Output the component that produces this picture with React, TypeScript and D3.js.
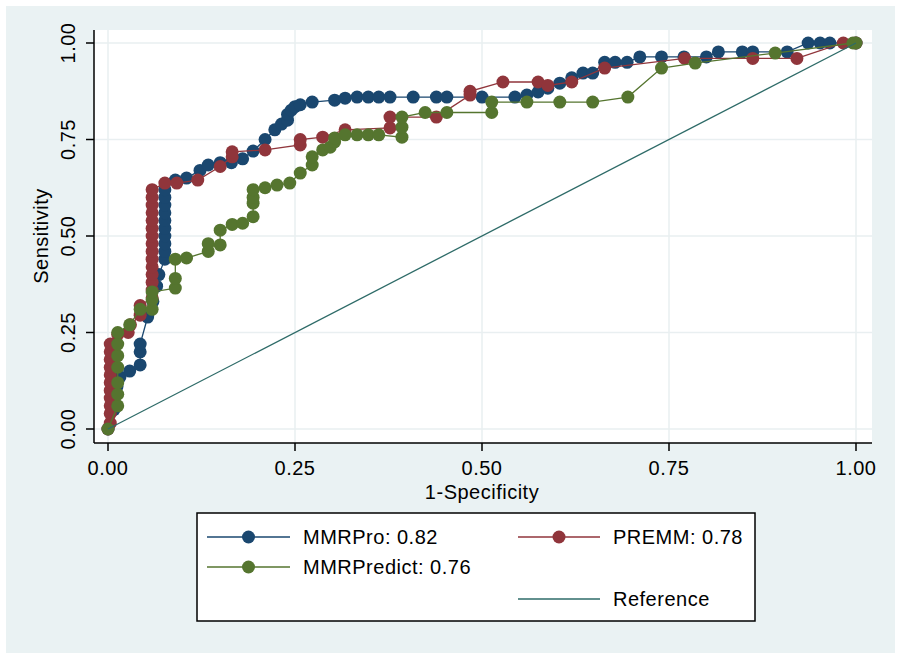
import React from "react";
import * as d3 from "d3";

const xTicks = [0, 0.25, 0.5, 0.75, 1];
const yTicks = [0, 0.25, 0.5, 0.75, 1];
const tickLabels = ["0.00", "0.25", "0.50", "0.75", "1.00"];

const seriesNames = ["MMRPro: 0.82", "PREMM: 0.78", "MMRPredict: 0.76", "Reference"];
const seriesColors = ["#1a476f", "#90353b", "#55752f", "#2e6b68"];

const mmrPro: [number, number][] = [
  [0, 0], [0.008, 0.05], [0.008, 0.08], [0.012, 0.11], [0.012, 0.125], [0.016, 0.135],
  [0.029, 0.15], [0.043, 0.166], [0.043, 0.2], [0.043, 0.22], [0.053, 0.29], [0.06, 0.33],
  [0.065, 0.37], [0.068, 0.4], [0.076, 0.44], [0.076, 0.46], [0.076, 0.48], [0.076, 0.5],
  [0.076, 0.52], [0.076, 0.54], [0.076, 0.56], [0.076, 0.58], [0.076, 0.6], [0.076, 0.62],
  [0.09, 0.645], [0.105, 0.65], [0.123, 0.67], [0.134, 0.684], [0.15, 0.69], [0.165, 0.69],
  [0.18, 0.7], [0.194, 0.72], [0.21, 0.75], [0.223, 0.775], [0.232, 0.79], [0.24, 0.8],
  [0.24, 0.815], [0.245, 0.826], [0.25, 0.835], [0.257, 0.84], [0.273, 0.847], [0.303, 0.852],
  [0.317, 0.857], [0.333, 0.86], [0.348, 0.86], [0.362, 0.86], [0.377, 0.86], [0.408, 0.86],
  [0.439, 0.86], [0.453, 0.86], [0.5, 0.86], [0.544, 0.86], [0.56, 0.865], [0.575, 0.873],
  [0.588, 0.883], [0.604, 0.896], [0.62, 0.91], [0.635, 0.922], [0.648, 0.922], [0.664, 0.95],
  [0.678, 0.95], [0.694, 0.95], [0.711, 0.964], [0.74, 0.964], [0.77, 0.964], [0.8, 0.964],
  [0.816, 0.977], [0.848, 0.977], [0.862, 0.977], [0.908, 0.977], [0.936, 1], [0.952, 1],
  [0.965, 1], [1, 1],
];

const premm: [number, number][] = [
  [0, 0], [0.003, 0.015], [0.003, 0.04], [0.003, 0.06], [0.003, 0.08], [0.003, 0.1],
  [0.003, 0.12], [0.003, 0.14], [0.003, 0.16], [0.003, 0.18], [0.003, 0.2], [0.003, 0.22],
  [0.013, 0.245], [0.027, 0.25], [0.03, 0.27], [0.043, 0.295], [0.043, 0.32], [0.059, 0.34],
  [0.059, 0.36], [0.059, 0.38], [0.059, 0.4], [0.059, 0.42], [0.059, 0.44], [0.059, 0.46],
  [0.059, 0.48], [0.059, 0.5], [0.059, 0.52], [0.059, 0.54], [0.059, 0.56], [0.059, 0.58],
  [0.059, 0.6], [0.059, 0.62], [0.076, 0.637], [0.092, 0.637], [0.12, 0.645], [0.15, 0.68],
  [0.166, 0.705], [0.166, 0.718], [0.21, 0.723], [0.257, 0.736], [0.257, 0.75], [0.287, 0.756],
  [0.317, 0.775], [0.377, 0.78], [0.377, 0.808], [0.439, 0.808], [0.484, 0.865], [0.484, 0.875],
  [0.528, 0.899], [0.575, 0.899], [0.588, 0.89], [0.62, 0.899], [0.664, 0.935], [0.771, 0.96],
  [0.862, 0.96], [0.921, 0.96], [0.983, 1], [1, 1],
];

const mmrPredict: [number, number][] = [
  [0, 0], [0.013, 0.06], [0.013, 0.09], [0.013, 0.12], [0.013, 0.16], [0.013, 0.19],
  [0.013, 0.22], [0.013, 0.25], [0.029, 0.27], [0.043, 0.31], [0.059, 0.31], [0.059, 0.335],
  [0.059, 0.355], [0.09, 0.365], [0.09, 0.39], [0.09, 0.44], [0.105, 0.443], [0.134, 0.46],
  [0.134, 0.48], [0.15, 0.477], [0.15, 0.515], [0.166, 0.53], [0.18, 0.533], [0.194, 0.55],
  [0.194, 0.585], [0.194, 0.6], [0.194, 0.62], [0.21, 0.625], [0.226, 0.632], [0.243, 0.637],
  [0.257, 0.663], [0.273, 0.684], [0.273, 0.705], [0.287, 0.723], [0.297, 0.73], [0.303, 0.744],
  [0.303, 0.754], [0.317, 0.762], [0.333, 0.762], [0.348, 0.762], [0.362, 0.762], [0.393, 0.756],
  [0.393, 0.782], [0.393, 0.808], [0.424, 0.82], [0.453, 0.82], [0.513, 0.82], [0.513, 0.847],
  [0.56, 0.847], [0.604, 0.847], [0.648, 0.847], [0.695, 0.86], [0.74, 0.935], [0.785, 0.948],
  [0.892, 0.974], [0.996, 1], [1, 1],
];

const reference: [number, number][] = [[0, 0], [1, 1]];

const FONT = "'Liberation Sans', Arial, sans-serif";

export default function App() {
  const x = d3.scaleLinear().domain([0, 1]).range([108, 856]);
  const y = d3.scaleLinear().domain([0, 1]).range([429, 43]);
  const line = d3
    .line<[number, number]>()
    .x((d) => x(d[0]))
    .y((d) => y(d[1]));

  const plotLeft = 94, plotRight = 872, plotTop = 30, plotBottom = 443;
  const series = [mmrPro, premm, mmrPredict];
  const R = 6.5;

  const legendLine = (x0: number, x1: number, yy: number, i: number, marker: boolean) => (
    <g key={"lg" + i}>
      <line x1={x0} x2={x1} y1={yy} y2={yy} stroke={seriesColors[i]} strokeWidth={1.3} />
      {marker && <circle cx={(x0 + x1) / 2} cy={yy} r={R} fill={seriesColors[i]} />}
    </g>
  );

  return (
    <svg
      width={905}
      height={663}
      style={{ position: "absolute", left: 0, top: 0, fontFamily: FONT }}
    >
      <rect x={0} y={0} width={905} height={663} fill="#ffffff" />
      <rect x={6} y={6} width={889} height={647} fill="#eaf2f3" />
      <rect x={plotLeft} y={plotTop} width={plotRight - plotLeft} height={plotBottom - plotTop} fill="#ffffff" />
      {yTicks.map((t) => (
        <line key={"gy" + t} x1={plotLeft} x2={plotRight} y1={y(t)} y2={y(t)} stroke="#e9eff1" strokeWidth={1.5} />
      ))}
      {xTicks.map((t) => (
        <line key={"gx" + t} x1={x(t)} x2={x(t)} y1={plotTop} y2={plotBottom} stroke="#e9eff1" strokeWidth={1.5} />
      ))}
      <line x1={plotLeft} x2={plotLeft} y1={plotTop} y2={plotBottom} stroke="#000" strokeWidth={1.5} />
      <line x1={plotLeft} x2={plotRight} y1={plotBottom} y2={plotBottom} stroke="#000" strokeWidth={1.5} />
      {xTicks.map((t, i) => (
        <g key={"xt" + t}>
          <line x1={x(t)} x2={x(t)} y1={plotBottom} y2={plotBottom + 8} stroke="#000" strokeWidth={1.5} />
          <text x={x(t)} y={475} textAnchor="middle" fontSize={20} fill="#000" letterSpacing={0.5}>
            {tickLabels[i]}
          </text>
        </g>
      ))}
      {yTicks.map((t, i) => (
        <g key={"yt" + t}>
          <line x1={plotLeft - 8} x2={plotLeft} y1={y(t)} y2={y(t)} stroke="#000" strokeWidth={1.5} />
          <text
            transform={`translate(75,${y(t)}) rotate(-90)`}
            textAnchor="middle"
            fontSize={20}
            fill="#000"
            letterSpacing={0.5}
          >
            {tickLabels[i]}
          </text>
        </g>
      ))}
      <text x={482} y={499} textAnchor="middle" fontSize={20} fill="#000" letterSpacing={0.5}>
        1-Specificity
      </text>
      <text transform={`translate(48,${y(0.5)}) rotate(-90)`} textAnchor="middle" fontSize={20} fill="#000" letterSpacing={0.5}>
        Sensitivity
      </text>

      {series.map((s, i) => (
        <g key={"s" + i}>
          <path d={line(s) || ""} fill="none" stroke={seriesColors[i]} strokeWidth={1.3} />
          {s.map((d, j) => (
            <circle key={j} cx={x(d[0])} cy={y(d[1])} r={R} fill={seriesColors[i]} />
          ))}
        </g>
      ))}
      <path d={line(reference) || ""} fill="none" stroke={seriesColors[3]} strokeWidth={1.3} />

      <rect x={197} y={513} width={558} height={108} fill="#ffffff" stroke="#000" strokeWidth={1.5} />
      {legendLine(207, 290, 537, 0, true)}
      <text x={303} y={544} fontSize={20} fill="#000" letterSpacing={0.5}>{seriesNames[0]}</text>
      {legendLine(518, 600, 537, 1, true)}
      <text x={613} y={544} fontSize={20} fill="#000" letterSpacing={0.5}>{seriesNames[1]}</text>
      {legendLine(207, 290, 567, 2, true)}
      <text x={303} y={574} fontSize={20} fill="#000" letterSpacing={0.5}>{seriesNames[2]}</text>
      {legendLine(518, 600, 599, 3, false)}
      <text x={613} y={606} fontSize={20} fill="#000" letterSpacing={0.5}>{seriesNames[3]}</text>
    </svg>
  );
}
